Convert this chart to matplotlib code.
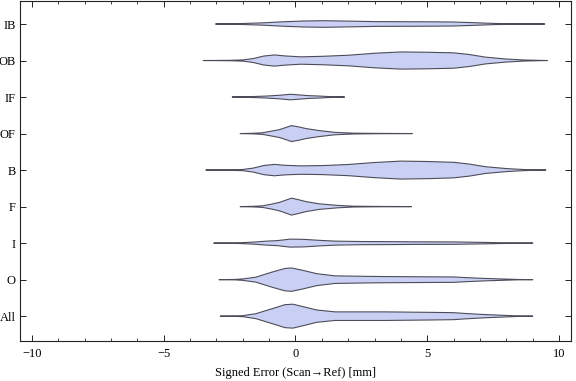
import matplotlib
matplotlib.use("Agg")
from matplotlib import pyplot as plt
import numpy as np

# categories, bottom to top
categories = ["All", "O", "I", "F", "B", "OF", "IF", "OB", "IB"]

# violin outlines: x positions [mm] and half widths (reference pixels)
profile_x = {
    "IB": [-3.03, -2.5, -2.0, -1.2, -0.5, 0.3, 1.1, 2.0, 3.0, 4.0, 5.0, 6.0, 6.8, 7.5, 8.4, 9.45],
    "OB": [-3.5, -2.5, -2.0, -1.6, -1.2, -0.8, -0.4, 0.2, 1.0, 2.0, 3.0, 4.0, 5.0, 6.0, 6.6, 7.2, 8.0, 8.7, 9.55],
    "IF": [-2.4, -1.8, -1.1, -0.6, -0.2, 0.1, 0.5, 0.9, 1.25, 1.86],
    "OF": [-2.1, -1.6, -1.25, -0.9, -0.6, -0.15, 0.1, 0.4, 0.9, 1.5, 2.2, 3.0, 4.43],
    "B": [-3.4, -2.5, -2.0, -1.6, -1.2, -0.8, -0.4, 0.2, 1.0, 2.0, 3.0, 4.0, 5.0, 6.0, 6.6, 7.2, 8.0, 8.7, 9.5],
    "F": [-2.1, -1.6, -1.25, -0.9, -0.6, -0.15, 0.1, 0.4, 0.9, 1.25, 1.6, 2.2, 3.0, 4.4],
    "I": [-3.1, -2.5, -2.0, -1.6, -1.1, -0.7, -0.2, 0.3, 0.9, 1.5, 2.5, 3.4, 4.5, 6.0, 7.2, 8.0, 9.0],
    "O": [-2.9, -2.3, -2.0, -1.5, -0.9, -0.4, -0.15, 0.25, 0.8, 1.5, 2.7, 3.4, 5.2, 6.0, 6.5, 7.2, 8.4, 9.0],
    "All": [-2.85, -2.3, -2.0, -1.5, -0.7, -0.4, -0.1, 0.25, 0.8, 1.5, 2.7, 3.4, 5.2, 6.0, 6.5, 7.2, 8.4, 9.0],
}
profile_w = {
    "IB": [0, 0.2, 0.5, 1.2, 2.2, 3.0, 3.3, 2.9, 2.4, 2.3, 2.2, 2.0, 1.3, 0.6, 0.2, 0],
    "OB": [0, 0.2, 0.6, 2.0, 4.5, 5.6, 4.6, 3.7, 4.2, 5.3, 7.3, 8.6, 8.3, 7.7, 6.0, 3.4, 1.5, 0.5, 0],
    "IF": [0, 0.3, 1.0, 1.8, 2.8, 2.2, 1.4, 1.0, 0.5, 0],
    "OF": [0, 0.3, 0.8, 2.5, 4.0, 8.0, 6.8, 5.0, 3.0, 1.2, 0.4, 0.2, 0],
    "B": [0, 0.2, 0.6, 2.0, 4.6, 5.7, 4.8, 4.2, 4.5, 5.6, 7.6, 9.0, 8.6, 7.8, 6.0, 3.4, 1.5, 0.5, 0],
    "F": [0, 0.3, 0.8, 2.5, 4.3, 8.5, 7.0, 5.0, 2.8, 2.0, 1.2, 0.4, 0.2, 0],
    "I": [0, 0.2, 0.5, 1.0, 2.0, 2.5, 4.0, 3.8, 2.8, 2.0, 1.6, 1.5, 1.3, 1.2, 0.7, 0.3, 0],
    "O": [0, 0.2, 0.7, 2.5, 7.5, 11.2, 11.7, 9.5, 6.0, 3.8, 3.3, 3.1, 2.8, 2.7, 2.0, 1.2, 0.2, 0],
    "All": [0, 0.2, 0.5, 2.5, 9.0, 11.5, 12.0, 9.8, 6.2, 4.3, 4.3, 4.3, 3.8, 3.5, 2.6, 1.6, 0.3, 0],
}

x_ticks = [-10, -5, 0, 5, 10]
x_label = "Signed Error (Scan\u2192Ref) [mm]"

plt.rcParams["font.family"] = ["Liberation Serif", "DejaVu Serif"]

fig = plt.figure(figsize=(5.76, 3.81), dpi=100)
ax = fig.add_axes([20 / 576, 40 / 381, 551 / 576, 340 / 381])

px_per_unit = 36.6  # reference pixels between two categories
for i, name in enumerate(categories):
    pos = i + 1
    xs = np.array(profile_x[name])
    hw = np.array(profile_w[name]) / px_per_unit
    outline_x = np.concatenate([xs, xs[::-1]])
    outline_y = np.concatenate([pos + hw, pos - hw[::-1]])
    ax.fill(outline_x, outline_y, facecolor="#cad0f3", edgecolor="#4d4d5a",
            linewidth=0.8, joinstyle="round")

ax.set_xlim(-10.45, 10.45)
ax.set_ylim(0.32, 9.63)
ax.set_xticks(x_ticks)
ax.set_xticks(range(-10, 11), minor=True)
ax.set_yticks(range(1, len(categories) + 1))
ax.set_yticklabels(categories)

ax.tick_params(which="both", direction="in", top=True, right=True,
               labelsize=9, color="#222222")
ax.tick_params(which="major", length=4.5, width=0.7)
ax.tick_params(which="minor", length=2.5, width=0.6)
ax.tick_params(axis="x", pad=5)
ax.tick_params(axis="y", pad=3)
for s in ax.spines.values():
    s.set_linewidth(0.8)
    s.set_color("#222222")

ax.set_xlabel(x_label, fontsize=9, labelpad=5)

fig.savefig("out.png", dpi=100)
